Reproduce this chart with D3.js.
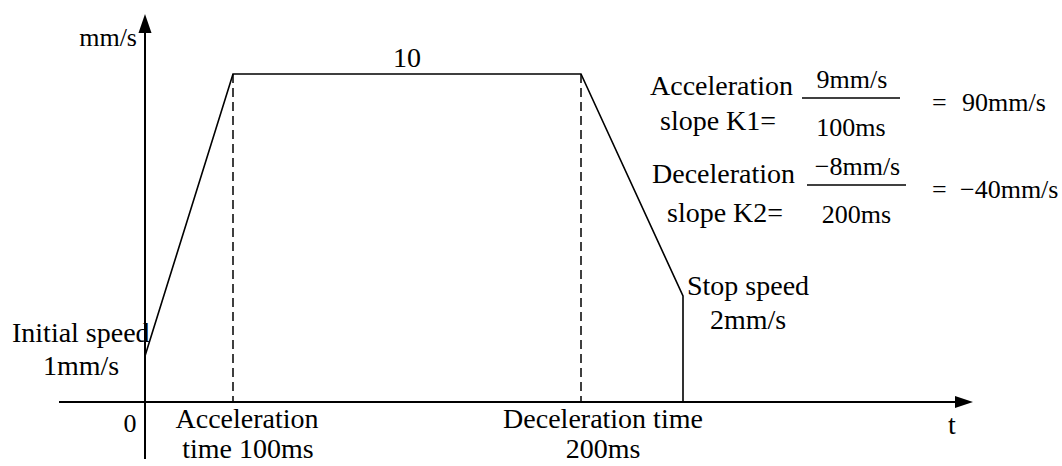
<!DOCTYPE html>
<html>
<head>
<meta charset="utf-8">
<script src="https://cdn.jsdelivr.net/npm/d3@7"></script>
<style>
  html, body { margin: 0; padding: 0; background: #fff; }
  svg { display: block; }
  text { font-family: "Liberation Serif", "Times New Roman", serif; fill: #000; }
</style>
</head>
<body>
<svg id="chart" width="1062" height="466"></svg>
<script>
// Speed profile: ramp up, cruise, ramp down, stop
const phaseTimes = [0, 100, 500, 700];      // ms: start, end of accel, start of decel, end
const phaseSpeeds = [1, 10, 10, 2];         // mm/s at each phase boundary
const cruiseLabel = "10";
const axisLabels = { y: "mm/s", x: "t", origin: "0" };
const slopeRows = [
  { name: ["Acceleration", "slope K1="], num: "9mm/s", den: "100ms", result: "90mm/s" },
  { name: ["Deceleration", "slope K2="], num: "\u22128mm/s", den: "200ms", result: "\u221240mm/s" }
];

const svg = d3.select("#chart");

// Schematic (piecewise) scales: each phase gets its own span on the page
const x = d3.scaleLinear().domain(phaseTimes).range([145, 233, 581, 683]);
const y = d3.scaleLinear().domain([0, 1, 2, 10]).range([402, 356, 296, 74]);

const ink = "#000";

// Axes with arrowheads
svg.append("line").attr("x1", 59).attr("x2", 958).attr("y1", y(0)).attr("y2", y(0))
  .attr("stroke", ink).attr("stroke-width", 2);
svg.append("line").attr("x1", x(0)).attr("x2", x(0)).attr("y1", 459).attr("y2", 30)
  .attr("stroke", ink).attr("stroke-width", 2);
svg.append("path")
  .attr("d", `M${x(0)},14 L${x(0) - 6.5},33 L${x(0) + 6.5},33 Z`).attr("fill", ink);
svg.append("path")
  .attr("d", `M973,${y(0)} L955,${y(0) - 6} L955,${y(0) + 6} Z`).attr("fill", ink);

// Dashed markers at the end of acceleration and start of deceleration
svg.selectAll("line.marker").data([phaseTimes[1], phaseTimes[2]]).join("line")
  .attr("class", "marker")
  .attr("x1", d => x(d)).attr("x2", d => x(d))
  .attr("y1", y(phaseSpeeds[1])).attr("y2", y(0))
  .attr("stroke", ink).attr("stroke-width", 1.5).attr("stroke-dasharray", "9,5");

// Profile line, ending with the drop from stop speed to zero
const profile = phaseTimes.map((t, i) => ({ t, v: phaseSpeeds[i] }));
profile.push({ t: phaseTimes[3], v: 0 });
svg.append("path")
  .datum(profile)
  .attr("d", d3.line().x(d => x(d.t)).y(d => y(d.v)))
  .attr("fill", "none").attr("stroke", ink).attr("stroke-width", 1.6)
  .attr("stroke-linejoin", "miter");

function label(txt, px, py, size, anchor) {
  return svg.append("text").attr("x", px).attr("y", py)
    .attr("font-size", size).attr("text-anchor", anchor || "start").text(txt);
}

// Axis labels
label(axisLabels.y, 137, 46, 26, "end");
label(axisLabels.x, 952, 434, 28, "middle");
label(axisLabels.origin, 130, 432, 26, "middle");

// Cruise speed
label(cruiseLabel, (x(phaseTimes[1]) + x(phaseTimes[2])) / 2, 67, 28, "middle");

// Point annotations
label("Initial speed", 12, 342, 28);
label("1mm/s", 81, 375, 28, "middle");
label("Stop speed", 687, 295, 28);
label("2mm/s", 748, 329, 28, "middle");
label("Acceleration", x(phaseTimes[1]) + 14, 428, 28, "middle");
label("time 100ms", x(phaseTimes[1]) + 15, 458, 28, "middle");
label("Deceleration time", x(phaseTimes[2]) + 22, 428, 28, "middle");
label("200ms", x(phaseTimes[2]) + 22, 458, 28, "middle");

// Slope formulas
const rowTop = [0, 88];
slopeRows.forEach((r, i) => {
  const dy = rowTop[i];
  label(r.name[0], i ? 652 : 650, 95 + dy, 28);
  label(r.name[1], i ? 667 : 660, 130 + dy + (i ? 4 : 0), 28);
  const lx0 = i ? 807 : 802, lx1 = i ? 906 : 900, ly = i ? 185 : 98;
  svg.append("line").attr("x1", lx0).attr("x2", lx1).attr("y1", ly).attr("y2", ly)
    .attr("stroke", ink).attr("stroke-width", 1.5);
  label(r.num, (lx0 + lx1) / 2 + 1, ly - 10, 26, "middle");
  label(r.den, (lx0 + lx1) / 2, ly + 38, 26, "middle");
  label("=", 932, ly + 13, 26);
  label(r.result, i ? 960 : 962, ly + 13, 26);
});
</script>
</body>
</html>
